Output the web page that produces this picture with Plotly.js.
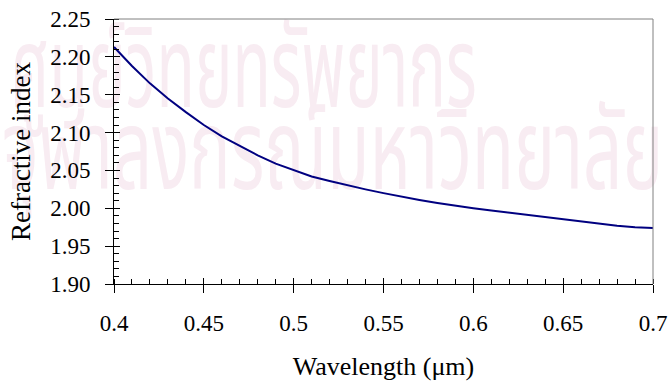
<!DOCTYPE html>
<html>
<head>
<meta charset="utf-8">
<script src="https://cdn.plot.ly/plotly-3.0.1.min.js"></script>
<style>
html,body{margin:0;padding:0;background:#fff;}
#wrap{position:relative;width:670px;height:385px;overflow:hidden;}
#wm{position:absolute;left:0;top:0;width:670px;height:385px;z-index:0;color:#f8ecf2;font-family:"Noto Sans Thai","Noto Sans","DejaVu Sans",sans-serif;}
#wm div{position:absolute;white-space:nowrap;line-height:1;transform-origin:0 0;}
#chart{position:absolute;left:0;top:0;width:670px;height:385px;z-index:1;}
</style>
</head>
<body>
<div id="wrap">
<div id="wm"><div id="wm1" style="left:10px;top:16px;font-size:63px;transform:scaleY(1.78);">ศูนย์วิทยทรัพยากร</div><div id="wm2" style="left:2px;top:100px;font-size:69px;transform:scaleY(1.62);">จุฬาลงกรณ์มหาวิทยาลัย</div></div>
<div id="chart"></div>
</div>
<script>
const wavelength = [0.40,0.41,0.42,0.43,0.44,0.45,0.46,0.47,0.48,0.49,0.50,0.51,0.52,0.53,0.54,0.55,0.56,0.57,0.58,0.59,0.60,0.61,0.62,0.63,0.64,0.65,0.66,0.67,0.68,0.69,0.70];
const refractiveIndex = [2.213,2.188,2.165,2.145,2.127,2.110,2.095,2.082,2.070,2.059,2.050,2.042,2.036,2.030,2.025,2.020,2.015,2.011,2.007,2.003,2.000,1.997,1.994,1.991,1.988,1.986,1.983,1.980,1.977,1.975,1.974];
const xTitle = 'Wavelength (μm)';
const yTitle = 'Refractive index';

const font = 'Liberation Serif, Times New Roman, serif';
const trace = {
  x: wavelength, y: refractiveIndex, type: 'scatter', mode: 'lines',
  line: {color: '#000080', width: 2}, hoverinfo: 'skip'
};
const dummyX = {x: [0.4], y: [1.9], xaxis: 'x2', yaxis: 'y2', mode: 'markers', marker: {opacity: 0}, hoverinfo: 'skip', showlegend: false};
const layout = {
  width: 670, height: 385,
  margin: {l: 114, r: 17, t: 19, b: 101},
  paper_bgcolor: 'rgba(0,0,0,0)', plot_bgcolor: 'rgba(0,0,0,0)',
  showlegend: false,
  font: {family: font, color: '#000'},
  xaxis: {
    range: [0.4, 0.7], dtick: 0.05, tick0: 0.4,
    showgrid: false, zeroline: false,
    showline: true, linecolor: '#000', linewidth: 1,
    ticks: 'outside', ticklen: 8, tickcolor: '#000', tickwidth: 1,
    ticklabelstandoff: 10,
    minor: {dtick: 0.01, ticks: 'inside', ticklen: 5, tickcolor: '#000', tickwidth: 1, showgrid: false},
    tickfont: {family: font, size: 23},
    title: {text: xTitle, font: {family: font, size: 26}, standoff: 22}
  },
  yaxis: {
    range: [1.9, 2.25], dtick: 0.05, tick0: 1.9, tickformat: '.2f',
    showgrid: false, zeroline: false,
    showline: true, linecolor: '#000', linewidth: 1,
    ticks: 'outside', ticklen: 8, tickcolor: '#000', tickwidth: 1,
    ticklabelstandoff: 10,
    minor: {dtick: 0.01, ticks: 'inside', ticklen: 5, tickcolor: '#000', tickwidth: 1, showgrid: false},
    tickfont: {family: font, size: 23},
    title: {text: yTitle, font: {family: font, size: 27}, standoff: 11}
  },
  xaxis2: {overlaying: 'x', matches: 'x', range: [0.4, 0.7], dtick: 0.05, tick0: 0.4, ticks: 'inside', ticklen: 6, tickcolor: '#000', showticklabels: false, showgrid: false, zeroline: false, anchor: 'y2', side: 'bottom'},
  yaxis2: {overlaying: 'y', range: [1.9, 2.25], dtick: 0.05, tick0: 1.9, ticks: 'inside', ticklen: 6, tickcolor: '#000', showticklabels: false, showgrid: false, zeroline: false, anchor: 'x2', side: 'left'},
  shapes: [
    {type: 'line', xref: 'paper', yref: 'paper', x0: 0, x1: 1, y0: 1, y1: 1, line: {color: '#808080', width: 1}},
    {type: 'line', xref: 'paper', yref: 'paper', x0: 1, x1: 1, y0: 0, y1: 1, line: {color: '#808080', width: 1}}
  ]
};
Plotly.newPlot('chart', [trace, dummyX], layout, {staticPlot: true, displayModeBar: false});
</script>
</body>
</html>
